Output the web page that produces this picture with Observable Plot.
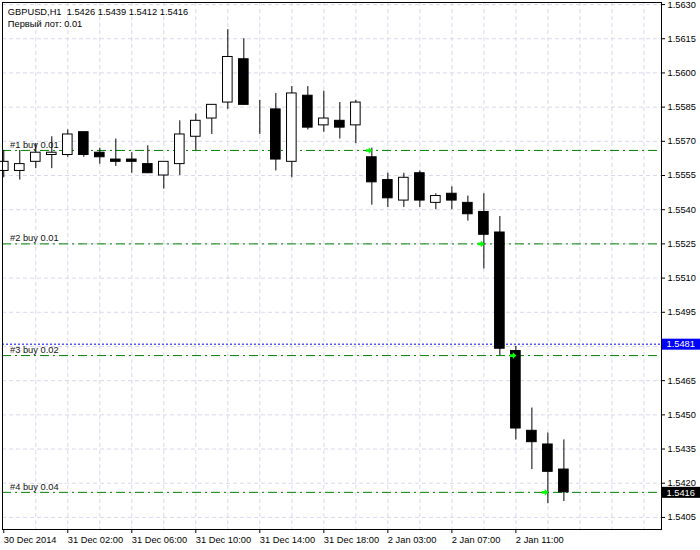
<!DOCTYPE html>
<html><head><meta charset="utf-8">
<script src="https://cdn.jsdelivr.net/npm/d3@7"></script>
<script src="https://cdn.jsdelivr.net/npm/@observablehq/plot@0.6"></script>
<style>body{margin:0;background:#fff} svg{display:block}</style>
</head><body><div id="chart"></div>
<script>
// ---- data ----
const headerLine1 = "GBPUSD,H1\u00a0\u00a01.5426 1.5439 1.5412 1.5416";
const headerLine2 = "Первый лот: 0.01";

const bars   = [0,1,2,3,4,5,6,7,8,9,10,11,12,13,14,15,16,17,18,19,20,21,22,23,24,25,26,27,28,29,30,31,32,33,34,35];
const opens  = [1.5557,1.5557,1.5561,1.5564,1.5564,1.5574,1.5565,1.5562,1.5562,1.5560,1.5555,1.5560,1.5572,1.5580,1.5587,1.5606,1.5585,1.5584,1.5561,1.5590,1.5577,1.5579,1.5577,1.5563,1.5553,1.5544,1.5556,1.5543,1.5547,1.5543,1.5539,1.5530,1.5478,1.5443,1.5437,1.5426];
const highs  = [1.5566,1.5566,1.5569,1.5572,1.5575,1.5574,1.5567,1.5571,1.5565,1.5568,1.5561,1.5579,1.5582,1.5586,1.5619,1.5615,1.5588,1.5591,1.5594,1.5594,1.5592,1.5587,1.5588,1.5567,1.5556,1.5556,1.5557,1.5547,1.5550,1.5546,1.5547,1.5537,1.5480,1.5453,1.5442,1.5439];
const lows   = [1.5554,1.5553,1.5558,1.5558,1.5563,1.5563,1.5560,1.5559,1.5556,1.5556,1.5549,1.5555,1.5566,1.5573,1.5584,1.5586,1.5573,1.5557,1.5554,1.5575,1.5574,1.5571,1.5569,1.5542,1.5541,1.5541,1.5541,1.5540,1.5540,1.5535,1.5514,1.5476,1.5439,1.5426,1.5411,1.5412];
const closes = [1.5561,1.5560,1.5565,1.5565,1.5573,1.5564,1.5563,1.5561,1.5561,1.5556,1.5561,1.5573,1.5579,1.5586,1.5607,1.5586,1.5585,1.5562,1.5591,1.5576,1.5580,1.5576,1.5587,1.5552,1.5545,1.5554,1.5544,1.5546,1.5544,1.5538,1.5529,1.5479,1.5444,1.5438,1.5425,1.5416];

const gridPrices = [1.5630,1.5615,1.5600,1.5585,1.5570,1.5555,1.5540,1.5525,1.5510,1.5495,1.5480,1.5465,1.5450,1.5435,1.5420,1.5405];
const priceTickLabels = [1.5630,1.5615,1.5600,1.5585,1.5570,1.5555,1.5540,1.5525,1.5510,1.5495,1.5465,1.5450,1.5435,1.5420,1.5405];
const gridBars = [2,4,6,8,10,12,14,16,18,20,22,24,26,28,30,32,34,36,38,40];
const xTickBars = [0,4,8,12,16,20,24,28,32];
const xTickLabels = ["30 Dec 2014","31 Dec 02:00","31 Dec 06:00","31 Dec 10:00","31 Dec 14:00","31 Dec 18:00","2 Jan 03:00","2 Jan 07:00","2 Jan 11:00"];

const orderLabels = ["#1 buy 0.01","#2 buy 0.01","#3 buy 0.02","#4 buy 0.04"];
const orderPrices = [1.5566,1.5525,1.5476,1.5416];
const orderBars   = [23,30,32,34];

const askPrice = 1.5481;
const bidPrice = 1.5416;

const xDomain = [-0.08, 41.1];
const yDomain = [1.53997, 1.56309];

// ---- build ----
const candles = bars.map((b,k)=>({bar:b, open:opens[k], high:highs[k], low:lows[k], close:closes[k]}));
const orders = orderLabels.map((l,k)=>({label:l, price:orderPrices[k], bar:orderBars[k]}));

const arrow = {draw(ctx){
  ctx.moveTo(-6,-1.3); ctx.lineTo(-3,-1.3); ctx.lineTo(-3,-3.3); ctx.lineTo(0.5,0);
  ctx.lineTo(-3,3.3); ctx.lineTo(-3,1.3); ctx.lineTo(-6,1.3); ctx.closePath();
}};

const gridStyle = {stroke:"#d8d8ee", strokeOpacity:1, strokeDasharray:"4,3"};

const chart = Plot.plot({
  width:700, height:550,
  marginLeft:2, marginRight:39, marginTop:2, marginBottom:21,
  style:{fontFamily:"'Liberation Sans', Arial, sans-serif", fontSize:"9.3px", background:"#fff", color:"#000", overflow:"visible"},
  x:{type:"linear", domain:xDomain, axis:null},
  y:{domain:yDomain, axis:null},
  marks:[
    Plot.gridY(gridPrices, gridStyle),
    Plot.gridX(gridBars, gridStyle),
    Plot.ruleY(orders, {y:"price", stroke:"#008000", strokeDasharray:"9,4,2,4"}),
    Plot.ruleY([askPrice], {stroke:"#0000ff", strokeDasharray:"2,2"}),
    Plot.ruleX(candles, {x:"bar", y1:"low", y2:"high", stroke:"#000"}),
    Plot.rect(candles, {x1:d=>d.bar-0.3, x2:d=>d.bar+0.3, y1:"open", y2:"close",
      fill:d=>d.close>d.open?"#fff":"#000", stroke:"#000"}),
    Plot.dot(orders, {x:"bar", y:"price", symbol:arrow, fill:"#00ff00", stroke:"none"}),
    Plot.text(orders, {y:"price", text:"label", frameAnchor:"left", textAnchor:"start", lineAnchor:"bottom", dx:7.5, dy:-2.7, fill:"#111"}),
    Plot.text([headerLine1], {frameAnchor:"top-left", textAnchor:"start", lineAnchor:"top", dx:5.3, dy:5.4, fill:"#000"}),
    Plot.text([headerLine2], {frameAnchor:"top-left", textAnchor:"start", lineAnchor:"top", dx:5.3, dy:17.4, fill:"#000"}),
    Plot.axisY({anchor:"right", ticks:priceTickLabels, tickFormat:d=>d.toFixed(4), tickSize:3, tickPadding:3, label:null}),
    Plot.axisX({anchor:"bottom", ticks:xTickBars, tickFormat:d=>xTickLabels[xTickBars.indexOf(d)], tickSize:4, tickPadding:2.5, textAnchor:"start", label:null}),
    Plot.frame({stroke:"#000"})
  ]
});

// price boxes on the right axis, positioned with the plot's own y scale
const ys = chart.scale("y");
const sel = d3.select(chart);
const axisX0 = 700 - 39 + 1;
for (const [v, color] of [[askPrice,"#0000ff"],[bidPrice,"#000000"]]) {
  const yy = ys.apply(v);
  sel.append("rect").attr("x", axisX0).attr("y", yy-5).attr("width", 38).attr("height", 11).attr("fill", color);
  sel.append("text").attr("x", axisX0+4.5).attr("y", yy+0.5).attr("dy","0.34em")
    .attr("text-anchor","start").attr("fill","#fff").attr("font-size","9.3px").text(v.toFixed(4));
}
document.getElementById("chart").appendChild(chart);
</script>
</body></html>
